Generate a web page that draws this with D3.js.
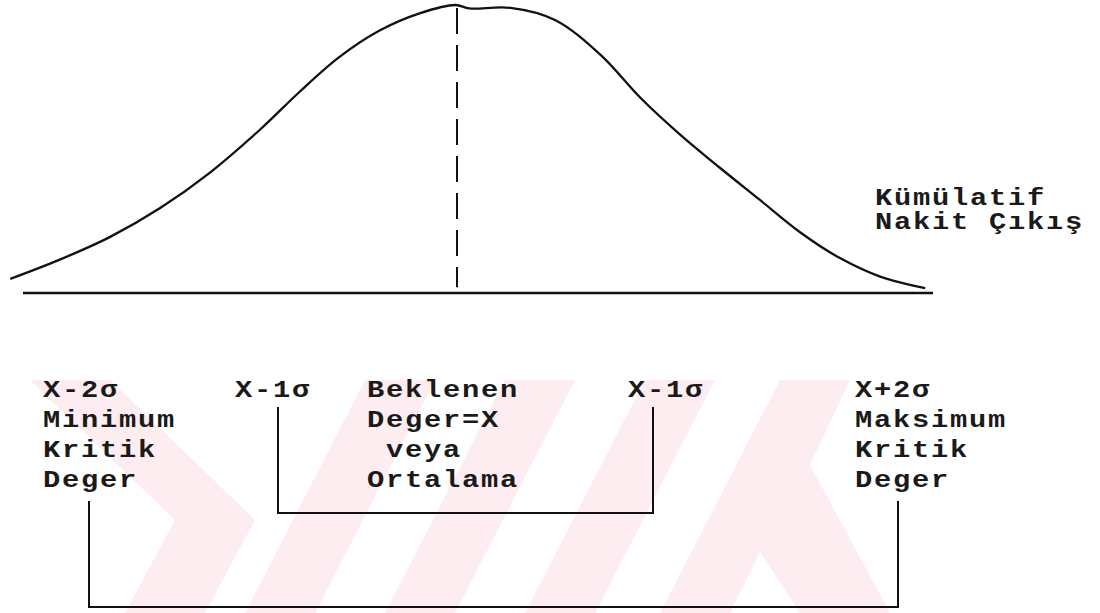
<!DOCTYPE html>
<html>
<head>
<meta charset="utf-8">
<script src="https://cdn.jsdelivr.net/npm/d3@7"></script>
<style>
  body { margin: 0; background: #fff; }
  text { font-family: "Liberation Mono", "DejaVu Sans Mono", monospace; font-weight: bold; fill: #1a1a1a; }
</style>
</head>
<body>
<svg id="chart"></svg>
<script>
// curve: x in sigma units, y as share of the peak height
const curveSigma = [-2.92, -2.60, -2.27, -1.94, -1.61, -1.29, -1.03, -0.77, -0.50, -0.24, -0.01,
                    0.08, 0.35, 0.64, 0.94, 1.20, 1.46, 1.72, 1.98, 2.24, 2.50, 2.77, 3.06];
const curveHeight = [0.049, 0.115, 0.194, 0.295, 0.420, 0.566, 0.698, 0.819, 0.913, 0.972, 1.0,
                     0.988, 0.99, 0.948, 0.826, 0.677, 0.549, 0.434, 0.323, 0.212, 0.122, 0.056, 0.017];
const meanSigma = 0;
const sideLabel = ["Kümülatif", "Nakit Çıkış"];
const blockLabels = [
    ["X-2σ", "Minimum", "Kritik", "Deger"],
    ["X-1σ"],
    ["Beklenen", "Deger=X", " veya", "Ortalama"],
    ["X-1σ"],
    ["X+2σ", "Maksimum", "Kritik", "Deger"]
];

const width = 1100, height = 613;
const svg = d3.select("#chart").attr("width", width).attr("height", height);

const x = d3.scaleLinear().domain([-1, 1]).range([457 - 153, 457 + 153]);
const y = d3.scaleLinear().domain([0, 1]).range([293, 5]);

// faint watermark behind the lower part
const wm = svg.append("g").attr("fill", "#fdecf0");
[
    "M30,380 L110,380 L255,520 L205,613 L125,613 L175,520 Z",
    "M245,613 L315,613 L435,380 L365,380 Z",
    "M385,613 L455,613 L575,380 L505,380 Z",
    "M525,613 L595,613 L715,380 L645,380 Z",
    "M660,613 L730,613 L760,552 L800,613 L890,613 L810,465 L850,380 L780,380 Z"
].forEach(d => wm.append("path").attr("d", d));

const points = curveSigma.map((s, i) => ({s: s, h: curveHeight[i]}));

const line = d3.line()
    .x(d => x(d.s))
    .y(d => y(d.h))
    .curve(d3.curveCatmullRom.alpha(0.5));

svg.append("path")
    .datum(points)
    .attr("d", line)
    .attr("fill", "none")
    .attr("stroke", "#111")
    .attr("stroke-width", 2.3);

// baseline
svg.append("line")
    .attr("x1", 23).attr("x2", 933)
    .attr("y1", y(0)).attr("y2", y(0))
    .attr("stroke", "#111")
    .attr("stroke-width", 2.6);

// mean, dashed
svg.append("line")
    .attr("x1", x(meanSigma)).attr("x2", x(meanSigma))
    .attr("y1", y(0.99)).attr("y2", y(0.02))
    .attr("stroke", "#111")
    .attr("stroke-width", 2)
    .attr("stroke-dasharray", "26 11");

// typewriter look: wide glyphs, so stretch horizontally
const typeText = (g, lines, x0, y0, step) => g.selectAll("text")
    .data(lines)
    .join("text")
    .attr("transform", (d, i) => `translate(${x0},${y0 + i * step}) scale(1.25,1)`)
    .attr("font-size", 23)
    .attr("letter-spacing", 1.4)
    .attr("xml:space", "preserve")
    .style("white-space", "pre")
    .text(d => d);

typeText(svg.append("g"), sideLabel, 875, 205, 24);

const blockX = [43, 235, 367, 628, 855];
blockLabels.forEach((lines, k) => typeText(svg.append("g"), lines, blockX[k], 397, 30));

// brackets
const bracket = (x0, x1, yTop, yBot) => svg.append("path")
    .attr("d", d3.line()([[x0, yTop], [x0, yBot], [x1, yBot], [x1, yTop]]))
    .attr("fill", "none")
    .attr("stroke", "#111")
    .attr("stroke-width", 2);

bracket(278, 653, 407, 513);
bracket(89, 898, 501, 607);
</script>
</body>
</html>
